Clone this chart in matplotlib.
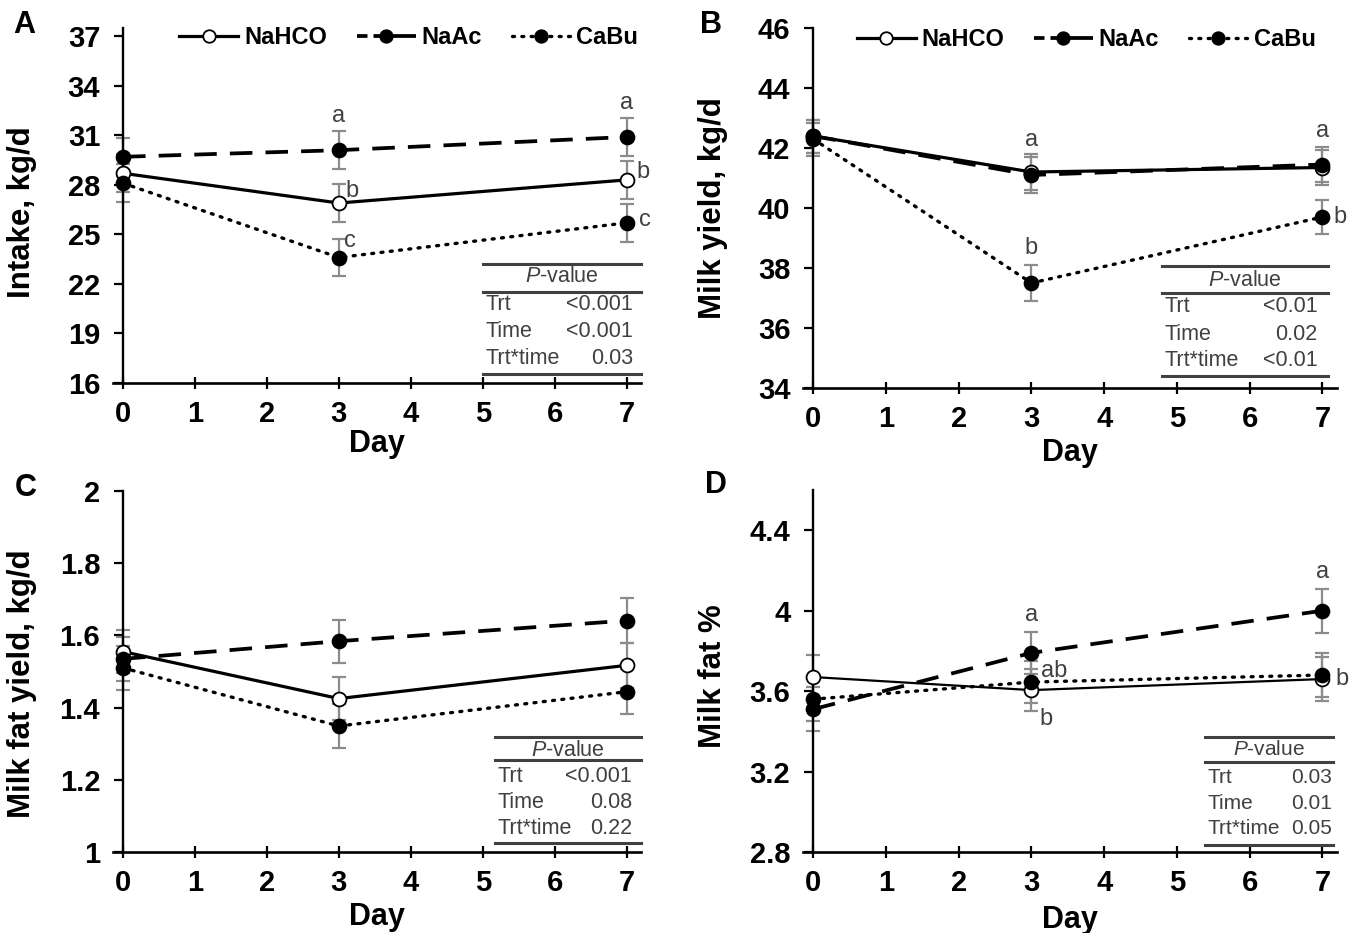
import matplotlib
matplotlib.use('Agg')
import matplotlib.pyplot as plt
from matplotlib.lines import Line2D

plt.rcParams['font.family'] = ['Liberation Sans', 'DejaVu Sans']
plt.rcParams['mathtext.fontset'] = 'custom'
plt.rcParams['mathtext.it'] = 'Liberation Sans:italic'
plt.rcParams['mathtext.rm'] = 'Liberation Sans'

days = [0, 3, 7]
treatments = ['NaHCO', 'NaAc', 'CaBu']

# A - intake, kg/d
intake_nahco = [28.7, 26.9, 28.3]
intake_naac = [29.7, 30.1, 30.9]
intake_cabu = [28.1, 23.6, 25.7]
intake_se = [1.15, 1.15, 1.15]

# B - milk yield, kg/d
milk_nahco = [42.4, 41.2, 41.35]
milk_naac = [42.4, 41.1, 41.45]
milk_cabu = [42.3, 37.5, 39.7]
milk_se = [0.55, 0.6, 0.58]

# C - milk fat yield, kg/d
fat_yield_nahco = [1.555, 1.425, 1.517]
fat_yield_naac = [1.535, 1.584, 1.641]
fat_yield_cabu = [1.51, 1.349, 1.444]
fat_yield_se = [0.06, 0.06, 0.062]

# D - milk fat %
fat_pct_nahco = [3.67, 3.605, 3.66]
fat_pct_naac = [3.51, 3.79, 4.0]
fat_pct_cabu = [3.56, 3.645, 3.68]
fat_pct_se = [0.11, 0.105, 0.11]

pv_terms = ['Trt', 'Time', 'Trt*time']
pv_intake = ['<0.001', '<0.001', '0.03']
pv_milk = ['<0.01', '0.02', '<0.01']
pv_fat_yield = ['<0.001', '0.08', '0.22']
pv_fat_pct = ['0.03', '0.01', '0.05']

styles = {
    'NaHCO': dict(ls='-', lw=2.3, mfc='white'),
    'NaAc': dict(ls=(0, (6, 3.5)), lw=2.7, mfc='black'),
    'CaBu': dict(ls=(0, (0.6, 2.2)), lw=2.4, mfc='black'),
}
# legend-only dash pattern so the gap shows next to the marker
legend_ls = {'NaHCO': '-', 'NaAc': (0, (2.8, 1.6, 12, 2)), 'CaBu': (0, (0.6, 2.2))}
GREY = '#404040'

W, H = 1366, 933
fig = plt.figure(figsize=(W / 100, H / 100), dpi=100)


def px_axes(left, right, bottom, top):
    return fig.add_axes([left / W, 1 - bottom / H, (right - left) / W, (bottom - top) / H])


def setup(ax, ylim, yticks, ylabel, letter, ylab_xy, xlab_pad, letter_xy):
    ax.set_xlim(-0.14, 7.2)
    ax.set_ylim(*ylim)
    ax.set_xticks(range(8))
    ax.set_yticks(yticks)
    for s in ['top', 'right']:
        ax.spines[s].set_visible(False)
    ax.spines['left'].set_position(('data', 0))
    ax.spines['left'].set_linewidth(1.7)
    ax.spines['bottom'].set_linewidth(1.9)
    ax.tick_params(axis='x', direction='inout', length=8, width=1.6, pad=8,
                   labelsize=21)
    ax.tick_params(axis='y', direction='out', length=6.5, width=1.6, pad=10,
                   labelsize=21)
    for lab in ax.get_xticklabels() + ax.get_yticklabels():
        lab.set_fontweight('bold')
    ax.set_xlabel('Day', fontsize=22, fontweight='bold', labelpad=xlab_pad)
    ax.set_ylabel(ylabel, fontsize=22.5, fontweight='bold')
    ax.yaxis.set_label_coords(*ylab_xy)
    ax.text(letter_xy[0], letter_xy[1], letter, transform=ax.transAxes,
            fontsize=22, fontweight='bold', ha='left', va='top')


def draw(ax, series, se, lw_nahco=None):
    for name, vals in zip(treatments, series):
        st = styles[name]
        lw = st['lw'] if (name != 'NaHCO' or lw_nahco is None) else lw_nahco
        ax.errorbar(days, vals, yerr=se, fmt='none', ecolor='#8c8c8c',
                    elinewidth=1.6, capsize=5, capthick=1.6, zorder=2)
        ax.plot(days, vals, color='black', ls=st['ls'], lw=lw,
                marker='o', ms=10, mfc=st['mfc'], mec='black', mew=1.3,
                dash_capstyle='round' if name == 'CaBu' else 'butt',
                zorder=3, clip_on=False)


def pvalue_table(ax, x0, x1, xval, ylines, yrows, values, fs=15.5):
    for y in ylines:
        ax.plot([x0, x1], [y, y], transform=ax.transAxes, color=GREY, lw=2.2,
                clip_on=False)
    ax.text((x0 + x1) / 2, yrows[0], '$P$-value', transform=ax.transAxes,
            ha='center', va='center', fontsize=fs, color=GREY)
    for term, val, y in zip(pv_terms, values, yrows[1:]):
        ax.text(x0 + 0.005, y, term, transform=ax.transAxes, ha='left',
                va='center', fontsize=fs, color=GREY)
        ax.text(xval, y, val, transform=ax.transAxes, ha='right',
                va='center', fontsize=fs, color=GREY)


def letter(ax, x, y, s, dx, dy, ha='center', va='bottom'):
    ax.annotate(s, (x, y), xytext=(dx, dy), textcoords='offset points',
                ha=ha, va=va, fontsize=17, color=GREY)


def legend(ax, anchor):
    handles = [Line2D([], [], color='black', ls=legend_ls[n], lw=styles[n]['lw'],
                      marker='o', ms=9, mfc=styles[n]['mfc'], mec='black',
                      mew=1.3, dash_capstyle='round' if n == 'CaBu' else 'butt')
               for n in treatments]
    ax.legend(handles, treatments, loc='center right', bbox_to_anchor=anchor,
              ncol=3, frameon=False, handlelength=2.5, handletextpad=0.25,
              columnspacing=1.25, borderaxespad=0, borderpad=0,
              prop=dict(size=17, weight='bold'))


# Panel A
axA = px_axes(113, 641, 383, 28)
setup(axA, (16, 37.5), range(16, 38, 3), 'Intake, kg/d', 'A',
      (-0.144, 0.48), 1, (-0.189, 1.051))
draw(axA, [intake_nahco, intake_naac, intake_cabu], intake_se)
legend(axA, (0.995, 0.972))
letter(axA, 3, intake_naac[1] + intake_se[1], 'a', 0, 3)
letter(axA, 3, intake_nahco[1], 'b', 5, 1, ha='left', va='bottom')
letter(axA, 3, intake_cabu[1], 'c', 4, 4, ha='left', va='bottom')
letter(axA, 7, intake_naac[2] + intake_se[2], 'a', 0, 3)
letter(axA, 7, intake_nahco[2], 'b', 7, 6, ha='left', va='center')
letter(axA, 7, intake_cabu[2], 'c', 9, 2, ha='left', va='center')
pvalue_table(axA, 0.70, 1.0, 0.985, [0.335, 0.256, 0.025],
             [0.299, 0.220, 0.146, 0.070], pv_intake)

# Panel B
axB = px_axes(803, 1337, 388, 28)
setup(axB, (34, 46), range(34, 47, 2), 'Milk yield, kg/d', 'B',
      (-0.140, 0.5), 4, (-0.193, 1.05))
draw(axB, [milk_nahco, milk_naac, milk_cabu], milk_se)
legend(axB, (0.96, 0.967))
letter(axB, 3, milk_naac[1] + milk_se[1], 'a', 0, 4)
letter(axB, 3, milk_cabu[1] + milk_se[1], 'b', 0, 4)
letter(axB, 7, milk_naac[2] + milk_se[2], 'a', 0, 4)
letter(axB, 7, milk_cabu[2], 'b', 8, 0, ha='left', va='center')
pvalue_table(axB, 0.672, 0.983, 0.964, [0.339, 0.264, 0.033],
             [0.30, 0.225, 0.15, 0.075], pv_milk)

# Panel C
axC = px_axes(113, 641, 852, 491)
setup(axC, (1, 2), [1, 1.2, 1.4, 1.6, 1.8, 2], 'Milk fat yield, kg/d', 'C',
      (-0.144, 0.465), 4, (-0.186, 1.05))
axC.set_yticklabels(['1', '1.2', '1.4', '1.6', '1.8', '2'], fontweight='bold')
draw(axC, [fat_yield_nahco, fat_yield_naac, fat_yield_cabu], fat_yield_se)
pvalue_table(axC, 0.723, 1.0, 0.983, [0.3186, 0.255, 0.025],
             [0.28, 0.208, 0.136, 0.064], pv_fat_yield)

# Panel D
axD = px_axes(803, 1337, 852, 490)
setup(axD, (2.8, 4.6), [2.8, 3.2, 3.6, 4.0, 4.4], 'Milk fat %', 'D',
      (-0.140, 0.486), 6, (-0.1835, 1.055))
axD.set_yticklabels(['2.8', '3.2', '3.6', '4', '4.4'], fontweight='bold')
draw(axD, [fat_pct_nahco, fat_pct_naac, fat_pct_cabu], fat_pct_se, lw_nahco=1.6)
letter(axD, 3, fat_pct_naac[1] + fat_pct_se[1], 'a', 0, 4)
letter(axD, 3, fat_pct_cabu[1], 'ab', 7, 8, ha='left', va='center')
letter(axD, 3, fat_pct_nahco[1], 'b', 6, -21, ha='left', va='center')
letter(axD, 7, fat_pct_naac[2] + fat_pct_se[2], 'a', 0, 4)
letter(axD, 7, fat_pct_nahco[2], 'b', 9, 0, ha='left', va='center')
pvalue_table(axD, 0.753, 0.993, 0.99, [0.318, 0.249, 0.019],
             [0.282, 0.207, 0.135, 0.064], pv_fat_pct, fs=15)

fig.savefig('out.png', dpi=100)
